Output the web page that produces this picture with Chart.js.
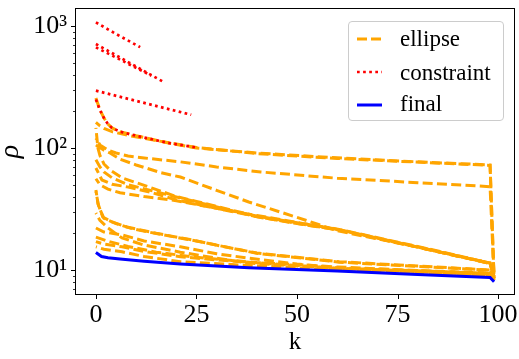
<!DOCTYPE html>
<html><head><meta charset="utf-8">
<script src="https://cdn.jsdelivr.net/npm/chart.js@4/dist/chart.umd.min.js"></script>
<style>
html,body{margin:0;padding:0;background:#fff;}
#wrap{position:relative;width:519px;height:359px;overflow:hidden;background:#fff;}
#c{position:absolute;left:0;top:0;}
.lg{position:absolute;left:348px;top:21px;width:154px;height:98px;border:1px solid #cccccc;border-radius:4px;background:rgba(255,255,255,0.8);}
.lt{position:absolute;font-family:"Liberation Serif",serif;font-size:23px;line-height:23px;color:#000;white-space:nowrap;}
.lh{position:absolute;}
</style></head>
<body><div id="wrap"><canvas id="c" width="519" height="359"></canvas>
<div class="lg"></div>
<svg class="lh" style="left:357px;top:34px" width="26" height="10"><line x1="0" y1="5" x2="25" y2="5" stroke="#FFA500" stroke-width="3" stroke-dasharray="10 4"/></svg>
<div class="lt" style="left:400px;top:27px">ellipse</div>
<svg class="lh" style="left:357px;top:67px" width="26" height="10"><line x1="0" y1="5" x2="25" y2="5" stroke="#FF0000" stroke-width="2.7" stroke-dasharray="2.7 3.4"/></svg>
<div class="lt" style="left:400px;top:60.5px">constraint</div>
<svg class="lh" style="left:357px;top:100px" width="26" height="10"><line x1="0" y1="5" x2="25" y2="5" stroke="#0000FF" stroke-width="3"/></svg>
<div class="lt" style="left:400px;top:92px">final</div>
</div>
<script>
// ---- data ----
const xTickValues = [0, 25, 50, 75, 100];
const yTickValues = [10, 100, 1000];
const yTickLabels = ['10\u00B9', '10\u00B2', '10\u00B3'];

// ellipse iterates
const e1K   = [0, 1, 2, 3, 4, 6, 10, 18, 25, 40, 60, 80, 98, 99];
const e1Rho = [257, 205, 176, 157, 146, 136, 126, 110, 100, 91, 83, 77, 72.6, 8.3];
const e2K   = [0, 1, 2, 4, 8, 15, 25, 40, 60, 98, 99];
const e2Rho = [162, 152, 145, 136, 127, 115, 101, 90, 82, 72, 8.6];
const e3K   = [0, 1, 3, 5, 8, 12, 21, 30, 41, 60, 80, 98, 99];
const e3Rho = [120, 106, 96, 91, 86, 82.8, 77, 70, 63.6, 56.5, 52, 48.2, 8.6];
const e4K   = [0, 2, 3.5, 6, 10, 16, 21, 30, 38, 50, 60, 80, 98, 99];
const e4Rho = [106, 96, 91, 81, 72.6, 63, 57.8, 45, 36.1, 27, 21, 15.4, 11.35, 8.8];
const e5K   = [0, 1.5, 4, 7.5, 14, 20, 30, 40, 50, 60.5, 70, 80, 90, 98, 99];
const e5Rho = [68.6, 54.7, 50.5, 48.2, 43, 37.5, 32, 27.4, 24, 21.3, 18.2, 15.4, 13.0, 11.35, 8.8];
const e6K   = [0, 0.5, 1, 2, 3.5, 6.6, 14, 20, 40, 60.5, 80, 98, 99];
const e6Rho = [146, 100, 87, 74, 66, 56.8, 46.9, 40, 27.6, 21.5, 15.6, 11.4, 8.8];
const e7K   = [0, 1, 2, 4, 8, 20, 40, 60.5, 80, 98, 99];
const e7Rho = [80, 70, 63.6, 57, 50, 39.7, 27.3, 21.2, 15.4, 11.3, 8.8];
const e8K   = [0, 0.5, 1.7, 4, 7.7, 15, 24, 32, 40, 50, 60.5, 80, 98, 99];
const e8Rho = [45.3, 35, 27.2, 24.8, 22.5, 20, 17.6, 15.5, 13.8, 12.7, 11.7, 10.8, 10.0, 8.9];
const e9K   = [0, 1, 3, 6.5, 12, 21, 30, 38, 50, 60.5, 80, 98, 99];
const e9Rho = [29.3, 25.5, 22.1, 18.3, 16, 14.0, 12.5, 11.4, 10.8, 10.3, 9.85, 9.4, 8.8];
const e10K  = [0, 2, 6.5, 12, 21, 30, 38, 50, 60.5, 80, 98, 99];
const e10Rho= [22.1, 20.5, 19.4, 17.3, 15.5, 13.6, 12.5, 11.2, 10.4, 9.9, 9.45, 8.7];
const e11K  = [0, 2, 6.5, 12, 21, 30, 38, 60.5, 80, 98, 99];
const e11Rho= [17.1, 16.3, 15.5, 14.2, 12.85, 12.1, 11.6, 10.3, 9.7, 9.1, 8.4];
const e12K  = [0, 2, 6.5, 12, 21, 38, 60.5, 80, 98, 99];
const e12Rho= [15.5, 14.8, 14.1, 12.9, 11.7, 10.9, 10.0, 9.4, 8.9, 8.2];
const e13K  = [0, 3, 8, 15, 25, 40, 60, 98, 99];
const e13Rho= [18.6, 17.2, 15.6, 14.0, 12.7, 11.5, 10.6, 9.3, 8.5];
const e14K  = [0, 1, 3, 6, 12, 20, 30, 40, 60.5, 98, 99];
const e14Rho= [56, 50, 46, 43, 40, 37, 32, 28, 21.4, 11.4, 8.8];
const e15K  = [0, 0.7, 2, 5, 9, 16, 25, 40, 60.5, 98, 99];
const e15Rho= [44, 33, 26.5, 24, 21.8, 19.6, 17.3, 13.7, 11.6, 9.95, 8.9];

// constraint iterates
const c1K   = [0, 5, 11];
const c1Rho = [1070, 860, 670];
const c2K   = [0, 8, 17];
const c2Rho = [711, 506, 345];
const c3K   = [0, 7, 13.8];
const c3Rho = [667, 510, 391];
const c4K   = [0, 12, 23.7];
const c4Rho = [295, 234, 187];
const c5K   = [0, 1, 2, 3, 4, 6, 10, 18, 25];
const c5Rho = [250, 205, 176, 157, 146, 136, 126, 110, 101];

// final
const fK    = [0, 1.4, 3, 6, 12, 21, 38, 60, 80, 98, 99];
const fRho  = [13.9, 12.9, 12.6, 12.3, 11.8, 11.2, 10.44, 9.8, 9.2, 8.7, 8.0];

const ellipseSeries = [[e1K,e1Rho],[e2K,e2Rho],[e3K,e3Rho],[e4K,e4Rho],[e5K,e5Rho],[e6K,e6Rho],[e7K,e7Rho],
  [e8K,e8Rho],[e9K,e9Rho],[e10K,e10Rho],[e11K,e11Rho],[e12K,e12Rho],[e13K,e13Rho],[e14K,e14Rho],[e15K,e15Rho]];
const constraintSeries = [[c1K,c1Rho],[c2K,c2Rho],[c3K,c3Rho],[c4K,c4Rho],[c5K,c5Rho]];
const finalSeries = [[fK,fRho]];

// ---- build ----
const pts = (ks, rs) => ks.map((k, i) => ({x: k, y: rs[i]}));
const datasets = [];
ellipseSeries.forEach(([k, r], i) => datasets.push({label:'ellipse', data: pts(k, r), borderColor:'#FFA500',
  borderWidth:3, borderDash:[10,4.3], borderDashOffset:(i % 3) * 4.5, borderCapStyle:'butt', pointRadius:0, tension:0, fill:false, order:3}));
constraintSeries.forEach(([k, r]) => datasets.push({label:'constraint', data: pts(k, r), borderColor:'#FF0000',
  borderWidth:2.7, borderDash:[2.7,3.4], borderCapStyle:'butt', pointRadius:0, tension:0, fill:false, order:2}));
finalSeries.forEach(([k, r]) => datasets.push({label:'final', data: pts(k, r), borderColor:'#0000FF',
  borderWidth:3, pointRadius:0, tension:0, fill:false, order:1}));

const FONT = '"Liberation Serif", serif';

const frameTicks = {
  id: 'frameTicks',
  afterDraw(chart) {
    const ctx = chart.ctx, a = chart.chartArea, xs = chart.scales.x, ys = chart.scales.y;
    ctx.save();
    ctx.strokeStyle = '#000';
    ctx.lineWidth = 1;
    ctx.strokeRect(Math.round(a.left) - 0.5, Math.round(a.top) - 0.5, Math.round(a.right - a.left) + 1, Math.round(a.bottom - a.top) + 1);
    ctx.beginPath();
    xTickValues.forEach(v => {
      const px = Math.round(xs.getPixelForValue(v)) + 0.5;
      ctx.moveTo(px, a.bottom); ctx.lineTo(px, a.bottom + 5);
    });
    yTickValues.forEach(v => {
      const py = Math.round(ys.getPixelForValue(v)) + 0.5;
      ctx.moveTo(a.left, py); ctx.lineTo(a.left - 5, py);
    });
    ctx.stroke();
    ctx.beginPath();
    ctx.lineWidth = 0.8;
    for (let e = 0; e <= 3; e++) {
      for (let m = 2; m <= 9; m++) {
        const v = m * Math.pow(10, e);
        if (v < ys.min || v > ys.max) continue;
        const py = Math.round(ys.getPixelForValue(v)) + 0.5;
        ctx.moveTo(a.left, py); ctx.lineTo(a.left - 3, py);
      }
    }
    ctx.stroke();
    ctx.restore();
  }
};

new Chart(document.getElementById('c'), {
  type: 'line',
  data: { datasets },
  options: {
    responsive: false,
    animation: false,
    devicePixelRatio: 1,
    layout: { padding: { left: 0, right: 5, top: 9, bottom: 0 } },
    plugins: { legend: { display: false }, tooltip: { enabled: false } },
    scales: {
      x: {
        type: 'linear', min: -4.95, max: 103.95,
        afterBuildTicks: s => { s.ticks = xTickValues.map(v => ({value: v})); },
        afterFit: s => { s.height = 65; s.paddingLeft = 0; s.paddingRight = 0; s.paddingTop = 0; s.paddingBottom = 0; },
        ticks: { autoSkip: false, maxRotation: 0, padding: 6, color: '#000', font: { family: FONT, size: 26 },
                 callback: v => String(v) },
        grid: { drawOnChartArea: false, drawTicks: false },
        border: { display: false },
        title: { display: true, text: 'k', color: '#000', font: { family: FONT, size: 25 }, padding: { top: 0, bottom: 2 } }
      },
      y: {
        type: 'logarithmic', min: 6.36, max: 1377,
        afterBuildTicks: s => { s.ticks = yTickValues.map(v => ({value: v})); },
        afterFit: s => { s.width = 76; s.paddingLeft = 0; s.paddingRight = 0; s.paddingTop = 0; s.paddingBottom = 0; },
        ticks: { autoSkip: false, padding: 9, color: '#000', font: { family: FONT, size: 26 },
                 callback: v => { const i = yTickValues.indexOf(v); return i >= 0 ? yTickLabels[i] : ''; } },
        grid: { drawOnChartArea: false, drawTicks: false },
        border: { display: false },
        title: { display: true, text: '\u03C1', color: '#000', font: { family: FONT, size: 28, style: 'italic' }, padding: { top: -6, bottom: 0 } }
      }
    }
  },
  plugins: [frameTicks]
});
</script>
</body></html>
